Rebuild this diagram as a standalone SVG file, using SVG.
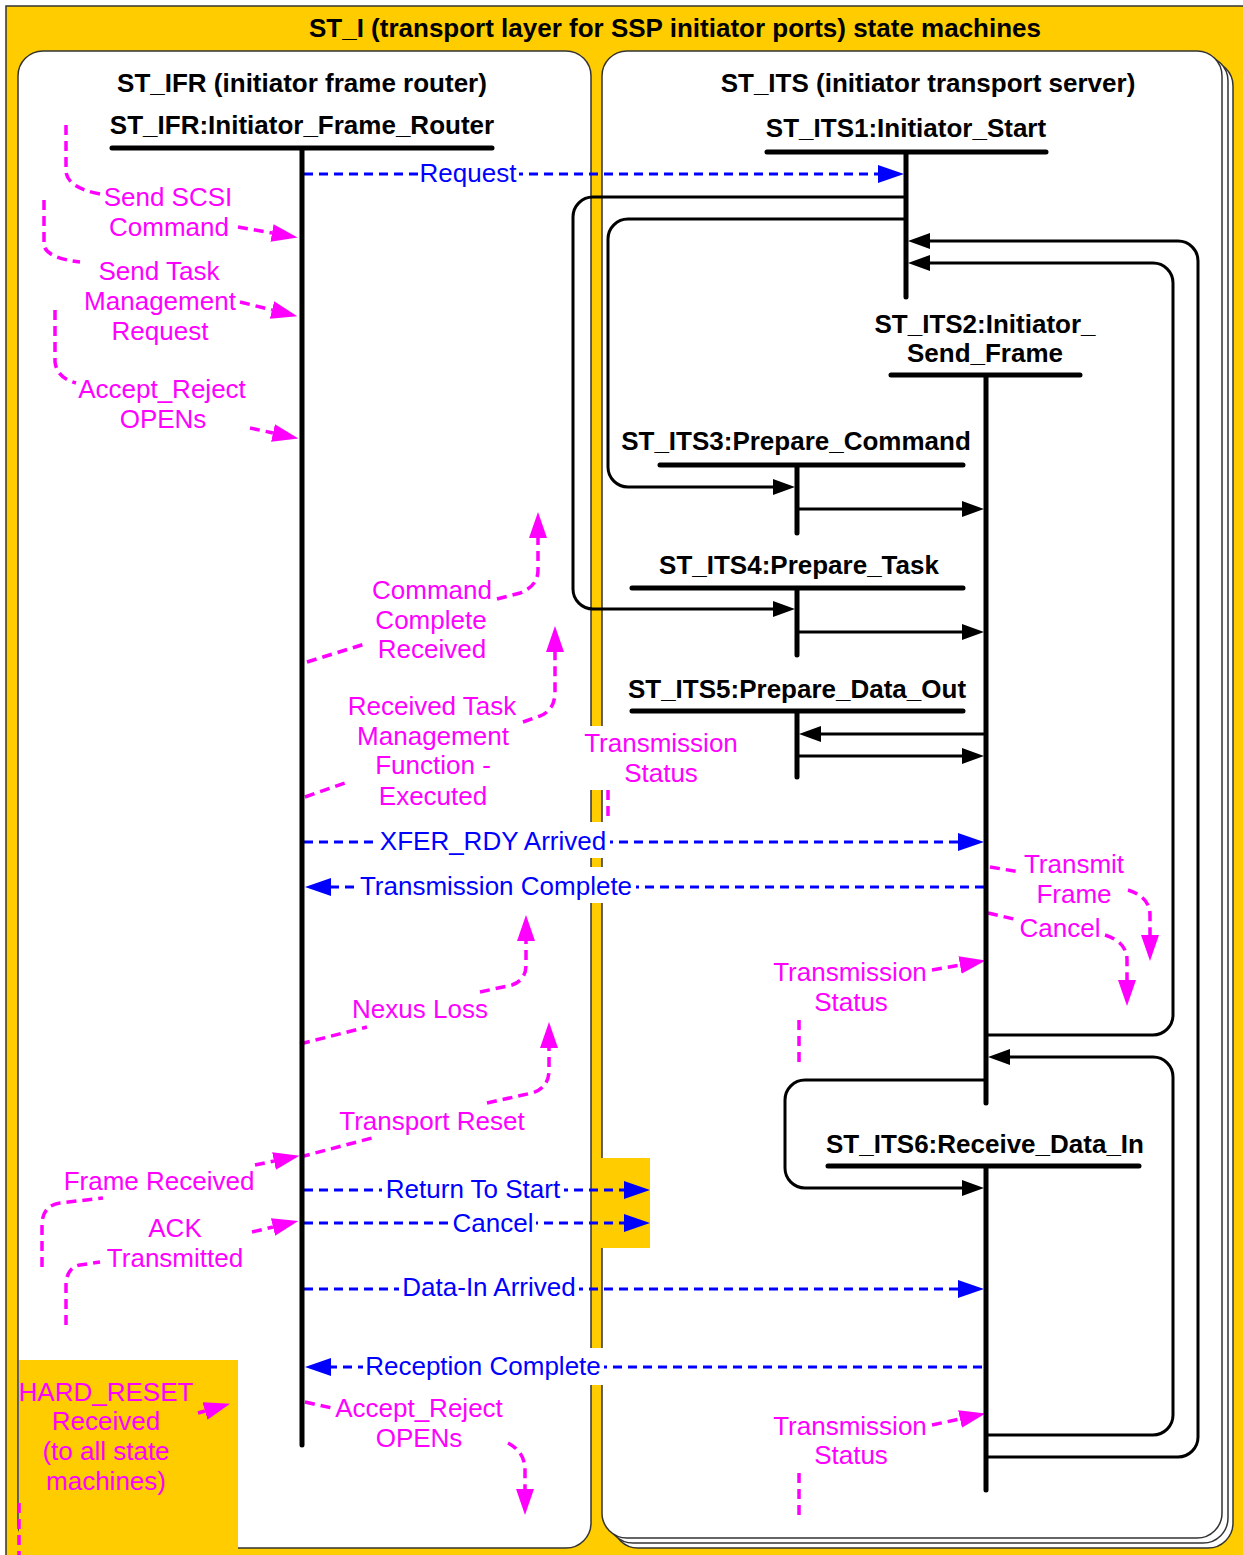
<svg xmlns="http://www.w3.org/2000/svg" width="1243" height="1555" viewBox="0 0 1243 1555">
<style>
text{font-family:"Liberation Sans",Arial,sans-serif;font-size:26px;text-anchor:middle}
.b{font-weight:bold;fill:#000}
.m{fill:#FF00FF}
.u{fill:#0000FF}
.bar{stroke:#000;stroke-width:5;stroke-linecap:round;fill:none}
.k{stroke:#000;stroke-width:3;fill:none}
.dl{stroke:#0000FF;stroke-width:3;stroke-dasharray:9 6;fill:none}
.mg{stroke:#FF00FF;stroke-width:3.5;stroke-dasharray:10 6;fill:none}
.panel{fill:#fff;stroke:#333;stroke-width:1.5}
.bg{fill:#fff}
.y{fill:#FFCC00}
</style>
<defs>
<marker id="ak" markerUnits="userSpaceOnUse" viewBox="0 0 22 16" markerWidth="22" markerHeight="16" refX="0" refY="8" orient="auto"><path d="M0,0 L22,8 L0,16 Z" fill="#000"/></marker>
<marker id="au" markerUnits="userSpaceOnUse" viewBox="0 0 26 18" markerWidth="26" markerHeight="18" refX="0" refY="9" orient="auto"><path d="M0,0 L26,9 L0,18 Z" fill="#0000FF"/></marker>
<marker id="am" markerUnits="userSpaceOnUse" viewBox="0 0 26 18" markerWidth="26" markerHeight="18" refX="0" refY="9" orient="auto"><path d="M0,0 L26,9 L0,18 Z" fill="#FF00FF"/></marker>
</defs>

<g id="frame">
<rect x="6" y="6" width="1260" height="1570" fill="#FFCC00" stroke="#333" stroke-width="1.5"/>
<text class="b" x="675" y="37">ST_I (transport layer for SSP initiator ports) state machines</text>
</g>

<g id="panel-ifr">
<rect class="panel" x="18" y="51" width="573" height="1497" rx="25"/>
<text class="b" x="302" y="92">ST_IFR (initiator frame router)</text>
</g>

<g id="panel-its">
<rect class="panel" x="613" y="61" width="620" height="1487" rx="25"/>
<rect class="panel" x="608" y="56" width="620" height="1487" rx="25"/>
<rect class="panel" x="602" y="51" width="620" height="1487" rx="25"/>
<text class="b" x="928" y="92">ST_ITS (initiator transport server)</text>
</g>

<g id="hard-reset-area">
<rect class="y" x="19" y="1360" width="219" height="200"/>
<rect class="y" x="593" y="1158" width="57" height="90"/>
</g>

<g id="connectors">
<path class="k" d="M904,197 H593 A20,20 0 0 0 573,217 V589 A20,20 0 0 0 593,609 H773" marker-end="url(#ak)"/>
<path class="k" d="M904,219 H628 A20,20 0 0 0 608,239 V467 A20,20 0 0 0 628,487 H773" marker-end="url(#ak)"/>
<path class="k" d="M799,509 H962" marker-end="url(#ak)"/>
<path class="k" d="M799,632 H962" marker-end="url(#ak)"/>
<path class="k" d="M984,734 H821" marker-end="url(#ak)"/>
<path class="k" d="M799,756 H962" marker-end="url(#ak)"/>
<path class="k" d="M988,1457 H1178 A20,20 0 0 0 1198,1437 V261 A20,20 0 0 0 1178,241 H930" marker-end="url(#ak)"/>
<path class="k" d="M988,1035 H1153 A20,20 0 0 0 1173,1015 V283 A20,20 0 0 0 1153,263 H930" marker-end="url(#ak)"/>
<path class="k" d="M988,1435 H1153 A20,20 0 0 0 1173,1415 V1077 A20,20 0 0 0 1153,1057 H1010" marker-end="url(#ak)"/>
<path class="k" d="M984,1080 H805 A20,20 0 0 0 785,1100 V1168 A20,20 0 0 0 805,1188 H962" marker-end="url(#ak)"/>

<path class="dl" d="M304,174 H878" marker-end="url(#au)"/>
<path class="dl" d="M304,842 H958" marker-end="url(#au)"/>
<path class="dl" d="M984,887 H331" marker-end="url(#au)"/>
<path class="dl" d="M304,1190 H624" marker-end="url(#au)"/>
<path class="dl" d="M304,1223 H624" marker-end="url(#au)"/>
<path class="dl" d="M304,1289 H958" marker-end="url(#au)"/>
<path class="dl" d="M982,1367 H331" marker-end="url(#au)"/>

<path class="mg" d="M66,125 V172 Q68,188 100,194"/>
<path class="mg" d="M238,227 L272,233" marker-end="url(#am)"/>
<path class="mg" d="M44,200 V245 Q46,258 80,262"/>
<path class="mg" d="M240,302 L272,310" marker-end="url(#am)"/>
<path class="mg" d="M55,310 V362 Q57,378 76,383"/>
<path class="mg" d="M250,428 L273,433" marker-end="url(#am)"/>
<path class="mg" d="M307,662 L368,643"/>
<path class="mg" d="M497,599 L520,593 Q538,586 538,570 V538" marker-end="url(#am)"/>
<path class="mg" d="M305,797 L345,783"/>
<path class="mg" d="M523,722 L540,716 Q555,710 555,692 V652" marker-end="url(#am)"/>
<path class="mg" d="M608,790 V830"/>
<path class="mg" d="M990,867 L1020,872"/>
<path class="mg" d="M1128,890 Q1150,897 1150,915 V935" marker-end="url(#am)"/>
<path class="mg" d="M988,913 L1018,920"/>
<path class="mg" d="M1105,935 Q1127,942 1127,960 V980" marker-end="url(#am)"/>
<path class="mg" d="M932,970 L960,965" marker-end="url(#am)"/>
<path class="mg" d="M799,1020 V1062"/>
<path class="mg" d="M300,1044 L367,1027"/>
<path class="mg" d="M480,992 L512,985 Q526,980 526,965 V941" marker-end="url(#am)"/>
<path class="mg" d="M300,1157 L372,1138"/>
<path class="mg" d="M487,1103 L532,1093 Q549,1088 549,1070 V1048" marker-end="url(#am)"/>
<path class="mg" d="M42,1267 V1222 Q44,1205 60,1203 L103,1198"/>
<path class="mg" d="M255,1165 L274,1161" marker-end="url(#am)"/>
<path class="mg" d="M66,1325 V1282 Q68,1267 80,1265 L100,1262"/>
<path class="mg" d="M252,1232 L273,1227" marker-end="url(#am)"/>
<path class="mg" d="M198,1413 L205,1411" marker-end="url(#am)"/>
<path class="mg" d="M19,1503 V1555"/>
<path class="mg" d="M305,1402 L332,1408"/>
<path class="mg" d="M508,1443 Q525,1452 525,1470 V1489" marker-end="url(#am)"/>
<path class="mg" d="M932,1425 L960,1419" marker-end="url(#am)"/>
<path class="mg" d="M799,1473 V1517"/>
</g>

<g id="ST_IFR">
<text class="b" x="302" y="134">ST_IFR:Initiator_Frame_Router</text>
<path class="bar" d="M112,148 H492 M302,148 V1445"/>
</g>
<g id="ST_ITS1">
<text class="b" x="906" y="137">ST_ITS1:Initiator_Start</text>
<path class="bar" d="M767,152 H1046 M906,152 V297"/>
</g>
<g id="ST_ITS2">
<text class="b" x="985" y="333">ST_ITS2:Initiator_</text>
<text class="b" x="985" y="362">Send_Frame</text>
<path class="bar" d="M891,375 H1080 M986,375 V1103"/>
</g>
<g id="ST_ITS3">
<text class="b" x="796" y="450">ST_ITS3:Prepare_Command</text>
<path class="bar" d="M660,465 H963 M797,465 V533"/>
</g>
<g id="ST_ITS4">
<text class="b" x="799" y="574">ST_ITS4:Prepare_Task</text>
<path class="bar" d="M632,588 H963 M797,588 V655"/>
</g>
<g id="ST_ITS5">
<text class="b" x="797" y="698">ST_ITS5:Prepare_Data_Out</text>
<path class="bar" d="M632,711 H963 M797,711 V777"/>
</g>
<g id="ST_ITS6">
<text class="b" x="985" y="1153">ST_ITS6:Receive_Data_In</text>
<path class="bar" d="M828,1166 H1139 M986,1166 V1490"/>
</g>

<g id="labels">
<rect class="bg" x="418" y="160" width="101" height="28"/>
<text class="u" x="468" y="182">Request</text>
<rect class="bg" x="377" y="822" width="233" height="36"/>
<text class="u" x="493" y="850">XFER_RDY Arrived</text>
<rect class="bg" x="358" y="867" width="278" height="36"/>
<text class="u" x="496" y="895">Transmission Complete</text>
<rect class="bg" x="382" y="1176" width="182" height="28"/>
<text class="u" x="473" y="1198">Return To Start</text>
<rect class="bg" x="450" y="1210" width="86" height="28"/>
<text class="u" x="493" y="1232">Cancel</text>
<rect class="bg" x="399" y="1275" width="180" height="28"/>
<text class="u" x="489" y="1296">Data-In Arrived</text>
<rect class="bg" x="363" y="1348" width="241" height="37"/>
<text class="u" x="483" y="1375">Reception Complete</text>

<rect class="bg" x="582" y="726" width="160" height="64"/>
<text class="m" x="661" y="752">Transmission</text>
<text class="m" x="661" y="782">Status</text>

<text class="m" x="168" y="206">Send SCSI</text>
<text class="m" x="169" y="236">Command</text>
<text class="m" x="159" y="280">Send Task</text>
<text class="m" x="160" y="310">Management</text>
<text class="m" x="160" y="340">Request</text>
<text class="m" x="162" y="398">Accept_Reject</text>
<text class="m" x="163" y="428">OPENs</text>
<text class="m" x="432" y="599">Command</text>
<text class="m" x="431" y="629">Complete</text>
<text class="m" x="432" y="658">Received</text>
<text class="m" x="432" y="715">Received Task</text>
<text class="m" x="433" y="745">Management</text>
<text class="m" x="433" y="774">Function -</text>
<text class="m" x="433" y="805">Executed</text>
<text class="m" x="1074" y="873">Transmit</text>
<text class="m" x="1074" y="903">Frame</text>
<text class="m" x="1060" y="937">Cancel</text>
<text class="m" x="850" y="981">Transmission</text>
<text class="m" x="851" y="1011">Status</text>
<text class="m" x="420" y="1018">Nexus Loss</text>
<text class="m" x="432" y="1130">Transport Reset</text>
<text class="m" x="159" y="1190">Frame Received</text>
<text class="m" x="175" y="1237">ACK</text>
<text class="m" x="175" y="1267">Transmitted</text>
<text class="m" x="106" y="1401">HARD_RESET</text>
<text class="m" x="106" y="1430">Received</text>
<text class="m" x="106" y="1460">(to all state</text>
<text class="m" x="106" y="1490">machines)</text>
<text class="m" x="419" y="1417">Accept_Reject</text>
<text class="m" x="419" y="1447">OPENs</text>
<text class="m" x="850" y="1435">Transmission</text>
<text class="m" x="851" y="1464">Status</text>
</g>
</svg>
